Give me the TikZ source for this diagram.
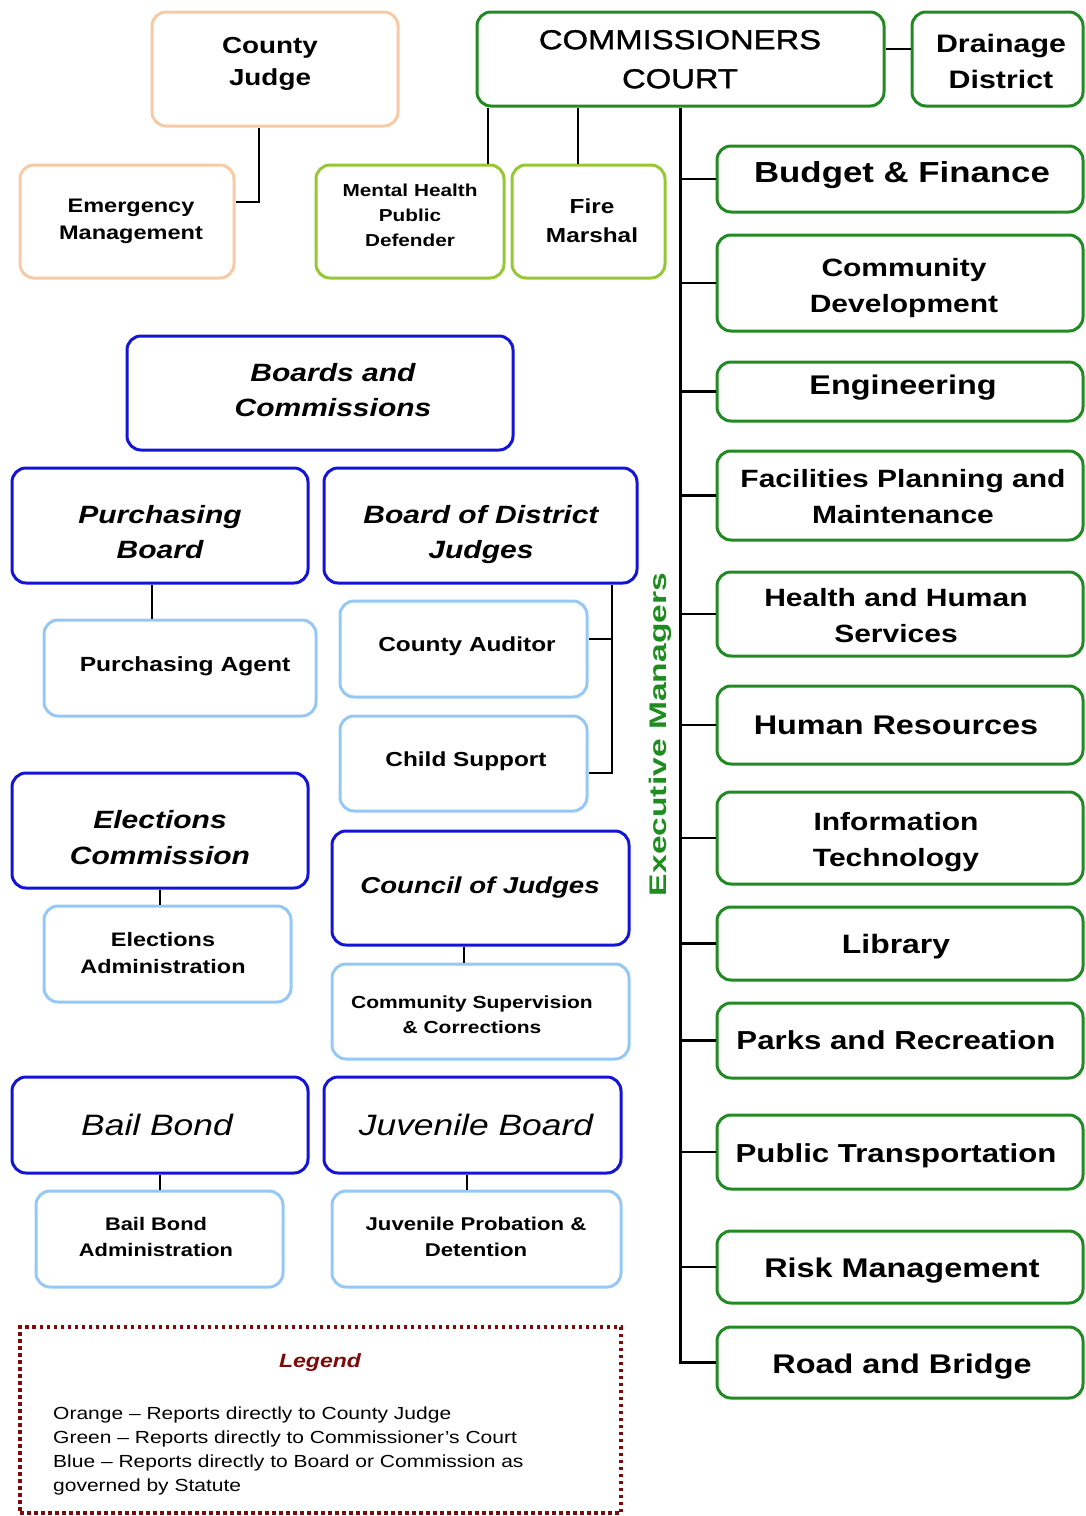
\documentclass[tikz,border=0pt]{standalone}
\usepackage{fontspec}
\setmainfont{Liberation Sans}[FakeStretch=1.2]
\newfontfamily\emfont{Liberation Sans}[FakeStretch=1.4]
\newfontfamily\medfont{Liberation Sans}[FakeStretch=1.2, FakeBold=1.3]
\usetikzlibrary{calc}
\definecolor{orangec}{RGB}{247,202,165}
\definecolor{darkgreenc}{RGB}{34,138,34}
\definecolor{lightgreenc}{RGB}{150,200,50}
\definecolor{bluec}{RGB}{20,20,215}
\definecolor{lightbluec}{RGB}{150,200,245}
\definecolor{emgreenc}{RGB}{30,140,30}
\definecolor{legendredc}{RGB}{128,10,10}
\newcommand\fsz[2]{\fontsize{#1}{#2}\selectfont}
\tikzset{
  box/.style={draw, rounded corners=14pt, line width=3pt, inner sep=0pt, fill=white},
  orangebox/.style={box, draw=orangec},
  greenbox/.style={box, draw=darkgreenc},
  lgreenbox/.style={box, draw=lightgreenc},
  bluebox/.style={box, draw=bluec},
  lbluebox/.style={box, draw=lightbluec},
  rightbox/.style={greenbox, minimum width=366pt},
  txt/.style={inner sep=0pt, align=center, anchor=north, text=black},
  conn/.style={line width=2.5pt, black},
  legendbox/.style={draw=legendredc, line width=3.5pt, dash pattern=on 3.5pt off 3.5pt, inner sep=0pt}
}
\begin{document}
\begin{tikzpicture}[x=1pt,y=-1pt]
\useasboundingbox (0,0) rectangle (1085,1516);

% ---- top left orange
\node[orangebox, minimum width=246pt, minimum height=114pt] (cj) at (275,69) {};
\node[txt, font=\bfseries\fsz{23.2}{32}] (cjt) at (270,37.4) {County\\Judge};
\node[orangebox, minimum width=214pt, minimum height=113pt] (em) at (127,221.5) {};
\node[txt, font=\bfseries\fsz{19.6}{27}] (emt) at (131,198.7) {Emergency\\Management};

% ---- commissioners
\node[greenbox, minimum width=407pt, minimum height=94pt] (cc) at (680.5,59) {};
\node[txt, font=\medfont\fsz{27.3}{39}] (cct) at (680,29.9) {COMMISSIONERS\\COURT};
\node[greenbox, minimum width=171pt, minimum height=94pt] (dd) at (997.5,59) {};
\node[txt, font=\bfseries\fsz{25.3}{36}] (ddt) at (1001,33.6) {Drainage\\District};
\node[lgreenbox, minimum width=188pt, minimum height=113pt] (mh) at (410,221.5) {};
\node[txt, font=\bfseries\fsz{17.3}{25}] (mht) at (410,183.6) {Mental Health\\Public\\Defender};
\node[lgreenbox, minimum width=153pt, minimum height=113pt] (fm) at (588.5,221.5) {};
\node[txt, font=\bfseries\fsz{20.3}{29}] (fmt) at (592,198.5) {Fire\\Marshal};

% ---- right column
\node[rightbox, minimum height=66pt] (bf) at (900,179) {};
\node[txt, font=\bfseries\fsz{29}{36}] (bft) at (902,161.5) {Budget \& Finance};
\node[rightbox, minimum height=96pt] (cd) at (900,283) {};
\node[txt, font=\bfseries\fsz{25}{36}] (cdt) at (904,257.8) {Community\\Development};
\node[rightbox, minimum height=59pt] (en) at (900,391.5) {};
\node[txt, font=\bfseries\fsz{27}{36}] (ent) at (903,375) {Engineering};
\node[rightbox, minimum height=89pt] (fp) at (900,495.5) {};
\node[txt, font=\bfseries\fsz{25}{36}] (fpt) at (903,468.8) {Facilities Planning and\\Maintenance};
\node[rightbox, minimum height=84pt] (hh) at (900,614) {};
\node[txt, font=\bfseries\fsz{25}{36}] (hht) at (896,587.8) {Health and Human\\Services};
\node[rightbox, minimum height=78pt] (hr) at (900,725) {};
\node[txt, font=\bfseries\fsz{27}{36}] (hrt) at (896,716) {Human Resources};
\node[rightbox, minimum height=92pt] (it) at (900,838) {};
\node[txt, font=\bfseries\fsz{25}{36}] (itt) at (896,811.8) {Information\\Technology};
\node[rightbox, minimum height=73pt] (li) at (900,943.5) {};
\node[txt, font=\bfseries\fsz{26.6}{36}] (lit) at (896,934.2) {Library};
\node[rightbox, minimum height=75pt] (pr) at (900,1040.5) {};
\node[txt, font=\bfseries\fsz{26}{36}] (prt) at (896,1030.4) {Parks and Recreation};
\node[rightbox, minimum height=74pt] (pt) at (900,1152) {};
\node[txt, font=\bfseries\fsz{26}{36}] (ptt) at (896,1143.4) {Public Transportation};
\node[rightbox, minimum height=72pt] (rm) at (900,1267) {};
\node[txt, font=\bfseries\fsz{27}{36}] (rmt) at (902,1258) {Risk Management};
\node[rightbox, minimum height=71pt] (rb) at (900,1362.5) {};
\node[txt, font=\bfseries\fsz{27}{36}] (rbt) at (902,1354) {Road and Bridge};

\node[rotate=90, inner sep=0pt, text=emgreenc, font=\emfont\bfseries\fsz{24}{28}] (exm) at (660,734.5) {Executive Managers};

% ---- boards (blue)
\node[bluebox, minimum width=386pt, minimum height=114pt] (bc) at (320,393) {};
\node[txt, font=\bfseries\itshape\fsz{25}{35}] (bct) at (333,362.8) {Boards and\\Commissions};
\node[bluebox, minimum width=296pt, minimum height=115pt] (pb) at (160,525.5) {};
\node[txt, font=\bfseries\itshape\fsz{25}{35}] (pbt) at (160,504.8) {Purchasing\\Board};
\node[bluebox, minimum width=313pt, minimum height=115pt] (bdj) at (480.5,525.5) {};
\node[txt, font=\bfseries\itshape\fsz{25}{35}] (bdjt) at (481,504.8) {Board of District\\Judges};
\node[lbluebox, minimum width=272pt, minimum height=96pt] (pa) at (180,668) {};
\node[txt, font=\bfseries\fsz{20.5}{27}] (pat) at (185,656.4) {Purchasing Agent};
\node[lbluebox, minimum width=247pt, minimum height=96pt] (ca) at (463.5,649) {};
\node[txt, font=\bfseries\fsz{20.3}{27}] (cat) at (467,636.5) {County Auditor};
\node[lbluebox, minimum width=247pt, minimum height=95pt] (chs) at (463.5,763.5) {};
\node[txt, font=\bfseries\fsz{20.3}{27}] (chst) at (466,751.5) {Child Support};
\node[bluebox, minimum width=296pt, minimum height=115pt] (ec) at (160,830.5) {};
\node[txt, font=\bfseries\itshape\fsz{25}{36}] (ect) at (160,809.8) {Elections\\Commission};
\node[lbluebox, minimum width=247pt, minimum height=96pt] (ea) at (167.5,954) {};
\node[txt, font=\bfseries\fsz{19.5}{27}] (eat) at (163,931.8) {Elections\\Administration};
\node[bluebox, minimum width=297pt, minimum height=114pt] (coj) at (480.5,888) {};
\node[txt, font=\bfseries\itshape\fsz{23}{30}] (cojt) at (480,876.5) {Council of Judges};
\node[lbluebox, minimum width=297pt, minimum height=95pt] (csc) at (480.5,1011.5) {};
\node[txt, font=\bfseries\fsz{17.5}{25}] (csct) at (472,995.5) {Community Supervision\\\& Corrections};
\node[bluebox, minimum width=296pt, minimum height=96pt] (bb) at (160,1125) {};
\node[txt, font=\itshape\fsz{29.5}{36}] (bbt) at (157,1114) {Bail Bond};
\node[bluebox, minimum width=297pt, minimum height=96pt] (jb) at (472.5,1125) {};
\node[txt, font=\itshape\fsz{29.5}{36}] (jbt) at (476,1114) {Juvenile Board};
\node[lbluebox, minimum width=247pt, minimum height=96pt] (bba) at (159.5,1239) {};
\node[txt, font=\bfseries\fsz{18.2}{26}] (bbat) at (156,1217.3) {Bail Bond\\Administration};
\node[lbluebox, minimum width=289pt, minimum height=96pt] (jpd) at (476.5,1239) {};
\node[txt, font=\bfseries\fsz{18.5}{26}] (jpdt) at (476,1217.2) {Juvenile Probation \&\\Detention};

% ---- legend
\node[legendbox, minimum width=601pt, minimum height=186pt] (lg) at (320.5,1420) {};
\node[txt, text=legendredc, font=\bfseries\itshape\fsz{19.2}{24}] (lgt) at (320,1352.9) {Legend};
\node[inner sep=0pt, anchor=north west, align=left, font=\fsz{17.5}{24}] (lgl) at (53,1406.5) {Orange -- Reports directly to County Judge\\Green -- Reports directly to Commissioner's Court\\Blue -- Reports directly to Board or Commission as\\governed by Statute};

% ---- connectors
\draw[conn] ([xshift=-16pt]cj.south) |- ([yshift=19.5pt]em.east);
\draw[conn] ([yshift=10pt]cc.east) -- ([yshift=10pt]dd.west);
\draw[conn] ([xshift=78pt]mh.north) -- ([xshift=78pt]mh.north |- cc.south);
\draw[conn] ([xshift=-10.5pt]fm.north) -- ([xshift=-10.5pt]fm.north |- cc.south);
\draw[conn] (cc.south) |- (rb.west);
\foreach \b in {bf,cd,en,fp,hh,hr,it,li,pr,pt,rm}{
  \draw[conn] (\b.west) -- (\b.west -| cc.south);
}
\draw[conn] ([xshift=-8pt]pb.south) -- ([xshift=-8pt]pb.south |- pa.north);
\coordinate (bj) at ([xshift=131.5pt]bdj.south);
\draw[conn] (bj) |- ([yshift=-9.5pt]chs.east);
\draw[conn] ([yshift=10pt]ca.east) -- ([yshift=10pt]ca.east -| bj);
\draw[conn] (ec.south) -- (ec.south |- ea.north);
\draw[conn] ([xshift=-16.5pt]coj.south) -- ([xshift=-16.5pt]coj.south |- csc.north);
\draw[conn] (bb.south) -- (bb.south |- bba.north);
\draw[conn] ([xshift=-5.5pt]jb.south) -- ([xshift=-5.5pt]jb.south |- jpd.north);
\end{tikzpicture}
\end{document}
